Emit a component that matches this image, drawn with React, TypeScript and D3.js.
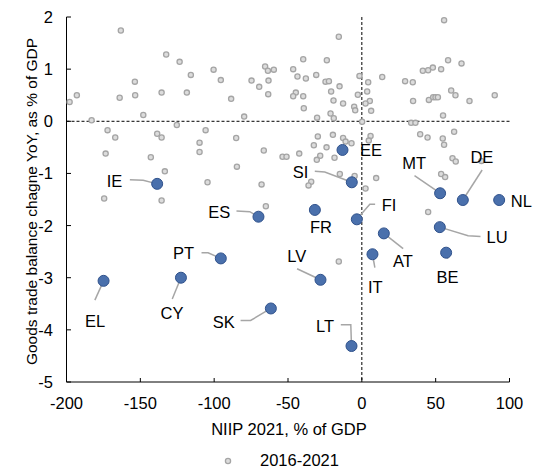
import React from "react";
import * as d3 from "d3";

// x: NIIP 2021 (% of GDP), y: goods trade balance change YoY (% of GDP)
const grayX = [
  -163.2, -197.9, -193, -183, -172.2, -167, -132.5, -123.4, -115.8, -100.4, -153.7, -153.5, -164, -135.6, -118.5, -148, -125.3, -105.8, -138.6, -135.6,
  -15.6, -95.5, -88.5, -79.7, -85.1, -74.7, -69.5, -65.5, -63.6, -59.6, -63.2, -63.4, -46.5, -43.6, -37.9, -39.7, -30.9, -23.7, -24.6, -22.3, -15.1, -20.8, -19.2, -12.7, -5.2, -4.5, -1.6, -2.7, -44.7, -46.5, -39.7, -39.3, -30.3, -21.2, -19, -29.8, -19.6, -12.7,
  4.3, 13.8, 3.6, 5.4, 2.5, 6.3, 0.2, 29.3, 34.5, 41.3, 44.9, 48.1, 53.7, 58.4, 67.5, 60.5, 63.4, 34.7, 45.4, 48.3, 49.9, 51.5, 72.9, 90, 55, 33.4, 36.3, 5.9, 39.5, 44.5, 54.8, 62.5, 55.7,
  -173.5, -142.9, -133.4, -109.9, -109.9, -174.5, -135.6, -104.5,
  -66.4, -84.6, -67.9, -65, -53.7, -51, -42.4, -11, -7, -32.5, -23.9, -28.2, -30.5, -18.5, -14.9, -4.9, -34.3, -36.1,
  55.7, 4.7, 9.7, 2.5, 61.4, 63.6, 53.7, 56.4, 81, 44.9,
  -15.6,
];
const grayY = [
  1.74, 0.37, 0.5, 0.02, -0.17, -0.31, 1.28, 1.14, 0.89, 0.99, 0.76, 0.5, 0.45, 0.55, 0.55, 0.12, -0.07, -0.17, -0.24, -0.31,
  1.62, 0.79, 0.43, 0.09, -0.32, 0.78, 0.66, 1.05, 0.97, 0.99, 0.78, 0.52, 1.0, 0.86, 0.82, 1.19, 0.89, 1.17, 0.76, 0.77, 0.67, 0.57, 0.4, 0.34, 0.28, 0.21, 0.87, 0.51, 0.55, 0.48, 0.48, 0.25, 0.07, 0.15, 0.06, -0.29, -0.26, -0.32,
  0.75, 0.85, 0.57, 0.39, 0.34, 0.2, -0.01, 0.77, 0.75, 0.97, 0.98, 1.03, 1.0, 1.17, 1.11, 0.59, 0.5, 0.39, 0.41, 0.46, 0.46, 0.46, 0.39, 0.5, 0.11, -0.03, -0.03, -0.28, -0.25, -0.31, -0.33, -0.2, 1.94,
  -0.62, -0.69, -0.96, -0.41, -0.59, -1.48, -1.52, -1.17,
  -0.56, -0.87, -1.21, -1.63, -0.68, -0.68, -0.62, -0.39, -0.42, -0.46, -0.5, -0.66, -0.74, -0.7, -1.01, -1.05, -1.16, -1.23,
  -0.45, -0.37, -1.09, -1.29, -0.71, -0.77, -1.01, -1.07, -0.76, -1.74,
  -2.69,
];

const countries = ["IE", "ES", "FR", "EE", "SI", "FI", "MT", "DE", "NL", "LU", "AT", "IT", "BE", "PT", "CY", "EL", "SK", "LV", "LT"];
const countryX = [-138.6, -70, -31.8, -13.1, -6.8, -3.4, 53, 68.4, 93, 52.8, 14.9, 7.2, 57.1, -95.5, -122.5, -174.9, -61.6, -28, -7];
const countryY = [-1.2, -1.83, -1.7, -0.55, -1.17, -1.88, -1.38, -1.51, -1.51, -2.03, -2.15, -2.55, -2.52, -2.63, -3.0, -3.06, -3.59, -3.04, -4.31];

const xTicks = [-200, -150, -100, -50, 0, 50, 100];
const yTicks = [-5, -4, -3, -2, -1, 0, 1, 2];
const xTitle = "NIIP 2021, % of GDP";
const yTitle = "Goods trade balance chagne YoY, as % of GDP";
const legendLabel = "2016-2021";

// label layout (pixel offsets from the point) and leader-line vertices
const labelLayout: Record<string, { dx: number; dy: number; anchor?: string; line?: [number, number][] }> = {
  IE: { dx: -42.6, dy: -2.8, line: [[-27.3, -4], [-14, -3.5], [0, 0]] },
  ES: { dx: -39.2, dy: -5, line: [[-22, -5.7], [-8.7, -5], [0, 0]] },
  FR: { dx: 6, dy: 17.5 },
  EE: { dx: 28.5, dy: 0.5 },
  SI: { dx: -51.2, dy: -9.8, line: [[-37, -11], [-27, -10.3], [0, 0]] },
  FI: { dx: 32.3, dy: -14.7, line: [[18.3, -15], [13, -15], [0, 0]] },
  MT: { dx: -26, dy: -30.1, line: [[-25.6, -17.6], [0, 0]] },
  DE: { dx: 19, dy: -43.1, line: [[19.3, -30], [0, 0]] },
  NL: { dx: 11.7, dy: 0.7, anchor: "start" },
  LU: { dx: 57.2, dy: 9.7, line: [[0, 0], [28.3, 8.7], [40.7, 9.4]] },
  AT: { dx: 19, dy: 28, line: [[0, 0], [19.3, 15.3]] },
  IT: { dx: 2.9, dy: 32.3, line: [[0, 0], [2.4, 13.3]] },
  BE: { dx: 1.3, dy: 24.2, line: [[0, 0], [1.6, 6]] },
  PT: { dx: -37.3, dy: -5.8, line: [[-19.3, -5.6], [-12.7, -5.6], [0, 0]] },
  CY: { dx: -9, dy: 35.3, line: [[0, 0], [-8.7, 21.3]] },
  EL: { dx: -8.4, dy: 40.1, line: [[0, 0], [-8.7, 19.3]] },
  SK: { dx: -47, dy: 13.6, line: [[-30.3, 12], [-20.3, 12], [0, 0]] },
  LV: { dx: -23.7, dy: -23.7, line: [[-23.4, -11], [0, 0]] },
  LT: { dx: -26.4, dy: -20.1, line: [[-10.7, -21.3], [-0.7, -21.3], [0, 0]] },
};

const W = 533;
const H = 468;
const FONT = "'Liberation Sans', Arial, sans-serif";
const FS = 16.5;

export default function App() {
  const x = d3.scaleLinear().domain([-200, 100]).range([66.5, 509.5]);
  const y = d3.scaleLinear().domain([-5, 2]).range([382, 17]);
  const line = d3.line();
  const gray = grayX.map((v, i) => ({ x: v, y: grayY[i] }));
  const blue = countries.map((c, i) => ({ c, x: countryX[i], y: countryY[i] }));
  const [x0, x1] = x.range();
  const [y0, y1] = y.range();

  return (
    <svg width={W} height={H} style={{ position: "absolute", left: 0, top: 0, background: "#fff" }} fontFamily={FONT}>
      <rect width={W} height={H} fill="#fff" />
      {/* zero reference lines */}
      <line x1={x0} x2={x1} y1={y(0)} y2={y(0)} stroke="#000" strokeWidth={1} strokeDasharray="3,2" />
      <line x1={x(0)} x2={x(0)} y1={y1} y2={y0} stroke="#000" strokeWidth={1} strokeDasharray="3,2" />

      {/* axes */}
      <line x1={x0} x2={x0} y1={y1} y2={y0} stroke="#000" strokeWidth={1} />
      <line x1={x0} x2={x1} y1={y0} y2={y0} stroke="#000" strokeWidth={1} />
      {yTicks.map((t) => (
        <g key={"y" + t}>
          <line x1={x0} x2={x0 + 4.5} y1={y(t)} y2={y(t)} stroke="#000" />
          <text x={53} y={y(t)} textAnchor="end" dominantBaseline="central" fontSize={FS} fill="#000">
            {t}
          </text>
        </g>
      ))}
      {xTicks.map((t) => (
        <g key={"x" + t}>
          <line x1={x(t)} x2={x(t)} y1={y0} y2={y0 - 4} stroke="#000" />
          <text x={x(t)} y={403} textAnchor="middle" dominantBaseline="central" fontSize={FS} fill="#000">
            {t}
          </text>
        </g>
      ))}
      <text x={289} y={428.5} textAnchor="middle" dominantBaseline="central" fontSize={FS} fill="#000">
        {xTitle}
      </text>
      <text
        transform={`translate(31,${201.5}) rotate(-90)`}
        textAnchor="middle"
        dominantBaseline="central"
        fontSize={15.5}
        fill="#000"
      >
        {yTitle}
      </text>

      {/* gray history points */}
      {gray.map((d, i) => (
        <circle key={"g" + i} cx={x(d.x)} cy={y(d.y)} r={2.6} fill="#dcdcdc" stroke="#a5a5a5" strokeWidth={1.3} />
      ))}

      {/* leader lines */}
      {blue.map((d) => {
        const L = labelLayout[d.c];
        if (!L.line) return null;
        const px = x(d.x);
        const py = y(d.y);
        return (
          <path
            key={"l" + d.c}
            d={line(L.line.map(([a, b]) => [px + a, py + b]) as [number, number][]) || ""}
            fill="none"
            stroke="#a6a6a6"
            strokeWidth={1.5}
          />
        );
      })}

      {/* 2021 country points */}
      {blue.map((d) => (
        <circle key={"b" + d.c} cx={x(d.x)} cy={y(d.y)} r={5.5} fill="#4a70ac" stroke="#30528c" strokeWidth={1} />
      ))}

      {/* country labels */}
      {blue.map((d) => {
        const L = labelLayout[d.c];
        return (
          <text
            key={"t" + d.c}
            x={x(d.x) + L.dx}
            y={y(d.y) + L.dy}
            textAnchor={L.anchor || "middle"}
            dominantBaseline="central"
            fontSize={FS}
            fill="#000"
          >
            {d.c}
          </text>
        );
      })}

      {/* legend */}
      <circle cx={228} cy={461} r={2.6} fill="#dcdcdc" stroke="#a5a5a5" strokeWidth={1.3} />
      <text x={260} y={460} dominantBaseline="central" fontSize={FS} fill="#000">
        {legendLabel}
      </text>
    </svg>
  );
}
